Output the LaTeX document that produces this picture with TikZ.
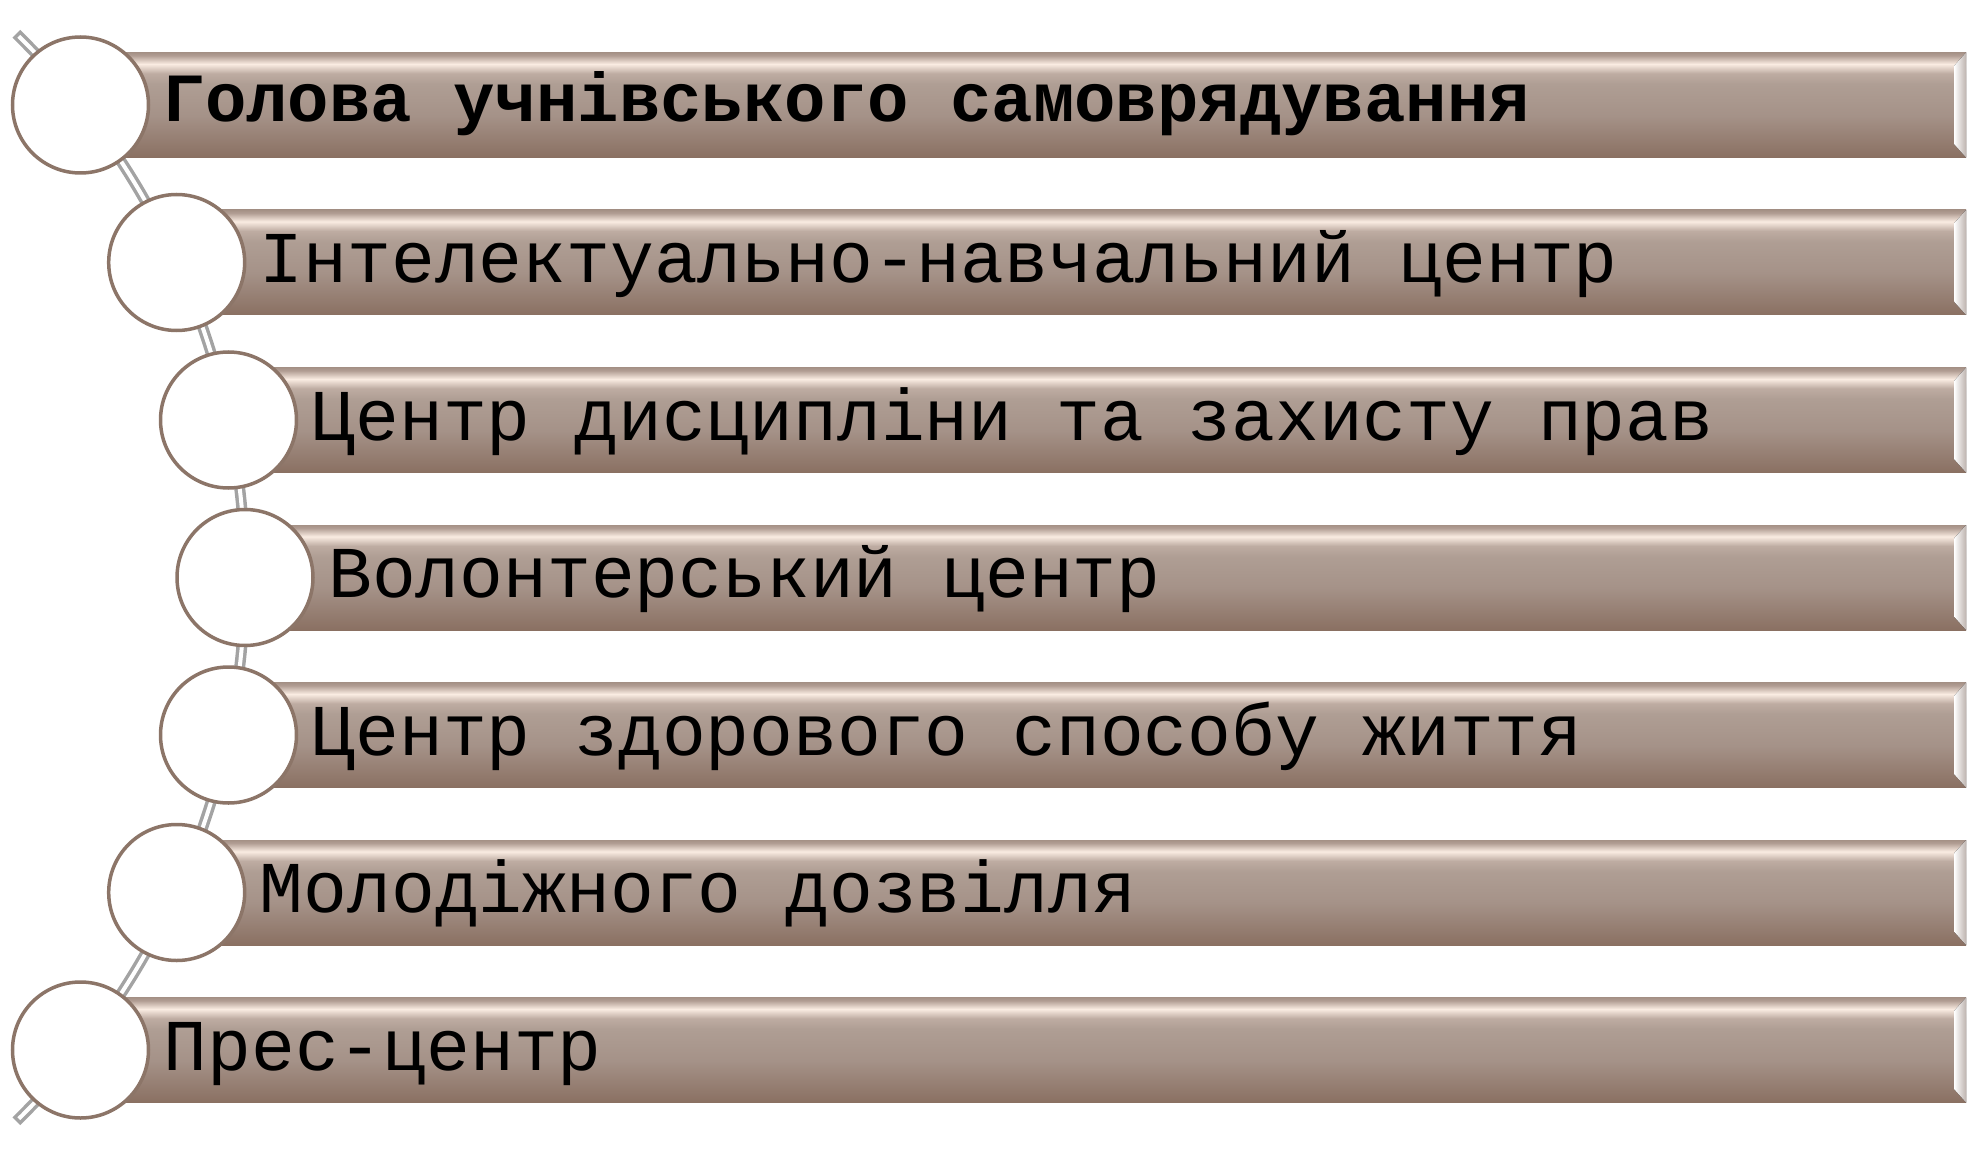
\documentclass[tikz,border=0pt]{standalone}
\usepackage{fontspec}
\newfontfamily\barfont{Liberation Mono}
\usetikzlibrary{positioning}
\definecolor{barA}{RGB}{165,145,134}
\definecolor{barB}{RGB}{178,158,148}
\definecolor{barC}{RGB}{250,236,226}
\definecolor{barD}{RGB}{190,172,162}
\definecolor{barE}{RGB}{175,158,148}
\definecolor{barF}{RGB}{165,146,136}
\definecolor{barG}{RGB}{138,112,98}
\definecolor{ringedge}{RGB}{140,117,104}
\definecolor{spinegray}{RGB}{163,163,163}
\definecolor{bevelgray}{RGB}{190,180,175}
\pgfdeclareverticalshading{barshade}{100bp}{color(0bp)=(barG); color(25bp)=(barG); color(45bp)=(barF); color(60bp)=(barE); color(65bp)=(barD); color(69.5bp)=(barC); color(73.5bp)=(barB); color(75bp)=(barA); color(100bp)=(barA)}
\tikzset{
  bar/.style={shading=barshade},
  bevel/.style={left color=white,right color=bevelgray},
  ring/.style={circle,fill=white,draw=ringedge,line width=3.5pt,minimum size=136pt,inner sep=0pt,outer sep=0pt},
  lbl/.style={anchor=base west,inner sep=0pt,font=\barfont\fontsize{73}{80}\selectfont},
  spine/.style={draw=spinegray,line width=3.5pt,double=white,double distance=4pt,line cap=rect}
}
\begin{document}
\begin{tikzpicture}[x=1pt,y=-1pt]
\useasboundingbox (0,0) rectangle (1980,1155);
%=======spine=============
\coordinate (arcc) at (-515.8,577.5);
\draw[spine] (arcc) ++(-45.2:760.8) arc[start angle=-45.2,end angle=45.2,radius=760.8];
%=======row 1=============
\fill[bar] (80.5,52.5) rectangle (1966,157.5);
\fill[bevel] (1966,52.5)--(1954,66)--(1954,144)--(1966,157.5)--cycle;
\node[ring] (c1) at (80.5,105) {};
\node[lbl,font=\barfont\bfseries\fontsize{69}{76}\selectfont] (t1) at ([xshift=15pt,yshift=-17pt]c1.east) {Голова учнівського самоврядування};
%=======row 2=============
\fill[bar] (176.7,210) rectangle (1966,315);
\fill[bevel] (1966,210)--(1954,223.5)--(1954,301.5)--(1966,315)--cycle;
\node[ring] (c2) at (176.7,262.5) {};
\node[lbl] (t2) at ([xshift=15pt,yshift=-20pt]c2.east) {Інтелектуально-навчальний центр};
%=======row 3=============
\fill[bar] (228.5,367.5) rectangle (1966,472.5);
\fill[bevel] (1966,367.5)--(1954,381)--(1954,459)--(1966,472.5)--cycle;
\node[ring] (c3) at (228.5,420) {};
\node[lbl] (t3) at ([xshift=15pt,yshift=-20pt]c3.east) {Центр дисципліни та захисту прав};
%=======row 4=============
\fill[bar] (245,525) rectangle (1966,630);
\fill[bevel] (1966,525)--(1954,538.5)--(1954,616.5)--(1966,630)--cycle;
\node[ring] (c4) at (245,577.5) {};
\node[lbl] (t4) at ([xshift=15pt,yshift=-20pt]c4.east) {Волонтерський центр};
%=======row 5=============
\fill[bar] (228.5,682.5) rectangle (1966,787.5);
\fill[bevel] (1966,682.5)--(1954,696)--(1954,774)--(1966,787.5)--cycle;
\node[ring] (c5) at (228.5,735) {};
\node[lbl] (t5) at ([xshift=15pt,yshift=-20pt]c5.east) {Центр здорового способу життя};
%=======row 6=============
\fill[bar] (176.7,840) rectangle (1966,945);
\fill[bevel] (1966,840)--(1954,853.5)--(1954,931.5)--(1966,945)--cycle;
\node[ring] (c6) at (176.7,892.5) {};
\node[lbl] (t6) at ([xshift=15pt,yshift=-20pt]c6.east) {Молодіжного дозвілля};
%=======row 7=============
\fill[bar] (80.5,997.5) rectangle (1966,1102.5);
\fill[bevel] (1966,997.5)--(1954,1011)--(1954,1089)--(1966,1102.5)--cycle;
\node[ring] (c7) at (80.5,1050) {};
\node[lbl] (t7) at ([xshift=15pt,yshift=-20pt]c7.east) {Прес-центр};
\end{tikzpicture}
\end{document}
